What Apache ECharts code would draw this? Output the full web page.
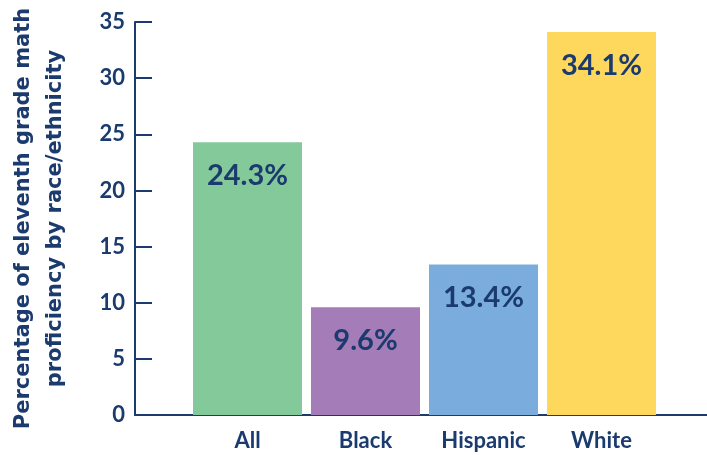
<!DOCTYPE html>
<html>
<head>
<meta charset="utf-8">
<script src="https://cdn.jsdelivr.net/npm/echarts@6/dist/echarts.min.js"></script>
<style>
  html, body { margin: 0; padding: 0; background: #fff; }
  #chart { width: 707px; height: 455px; }
</style>
</head>
<body>
<div id="chart"></div>
<script>
const groups = ['All', 'Black', 'Hispanic', 'White']
const proficiency = [24.3, 9.6, 13.4, 34.1]
const barColors = ['#84c99a', '#a47cb8', '#7aadde', '#fdd85d']
const yTicks = [0, 5, 10, 15, 20, 25, 30, 35]

const navy = '#1b3a6e'
const font = 'Lato'

const dom = document.getElementById('chart')
const chart = echarts.init(dom)

const option = {
  backgroundColor: '#ffffff',
  animation: false,
  grid: [
    // bars
    { left: 188.5, right: 46.5, top: 22, bottom: 40 },
    // axes frame
    { left: 128, right: 0, top: 22, bottom: 40 }
  ],
  xAxis: [
    {
      type: 'category',
      gridIndex: 0,
      data: groups,
      axisLine: { show: false },
      axisTick: { show: false },
      axisLabel: {
        color: navy,
        fontFamily: font,
        fontWeight: 'bold',
        fontSize: 22,
        margin: 15
      }
    },
    {
      type: 'value',
      gridIndex: 1,
      min: 0,
      max: 1,
      axisLine: { show: true, lineStyle: { color: navy, width: 2 } },
      axisTick: { show: false },
      axisLabel: { show: false },
      splitLine: { show: false }
    }
  ],
  yAxis: [
    {
      type: 'value',
      gridIndex: 0,
      min: 0,
      max: 35,
      show: false
    },
    {
      type: 'value',
      gridIndex: 1,
      min: yTicks[0],
      max: yTicks[yTicks.length - 1],
      interval: 5,
      name: 'Percentage of eleventh grade math\nproficiency by race/ethnicity',
      nameLocation: 'middle',
      nameGap: 63,
      nameTextStyle: {
        color: navy,
        fontFamily: 'DejaVu Sans',
        fontWeight: 'bold',
        fontSize: 21,
        lineHeight: 32
      },
      axisLine: { show: true, lineStyle: { color: navy, width: 2 } },
      axisTick: { show: true, inside: true, length: 17, lineStyle: { color: navy, width: 2 } },
      axisLabel: {
        color: navy,
        fontFamily: font,
        fontWeight: 'bold',
        fontSize: 22,
        margin: 10
      },
      splitLine: { show: false }
    }
  ],
  series: [
    {
      type: 'bar',
      xAxisIndex: 0,
      yAxisIndex: 0,
      barCategoryGap: 9,
      data: proficiency.map((v, i) => ({
        value: v,
        itemStyle: { color: barColors[i] }
      })),
      label: {
        show: true,
        position: 'insideTop',
        distance: 19,
        formatter: '{c}%',
        color: navy,
        fontFamily: font,
        fontWeight: 'bold',
        fontSize: 29
      }
    }
  ]
}

chart.setOption(option)
window.addEventListener('resize', () => chart.resize())
</script>
</body>
</html>
